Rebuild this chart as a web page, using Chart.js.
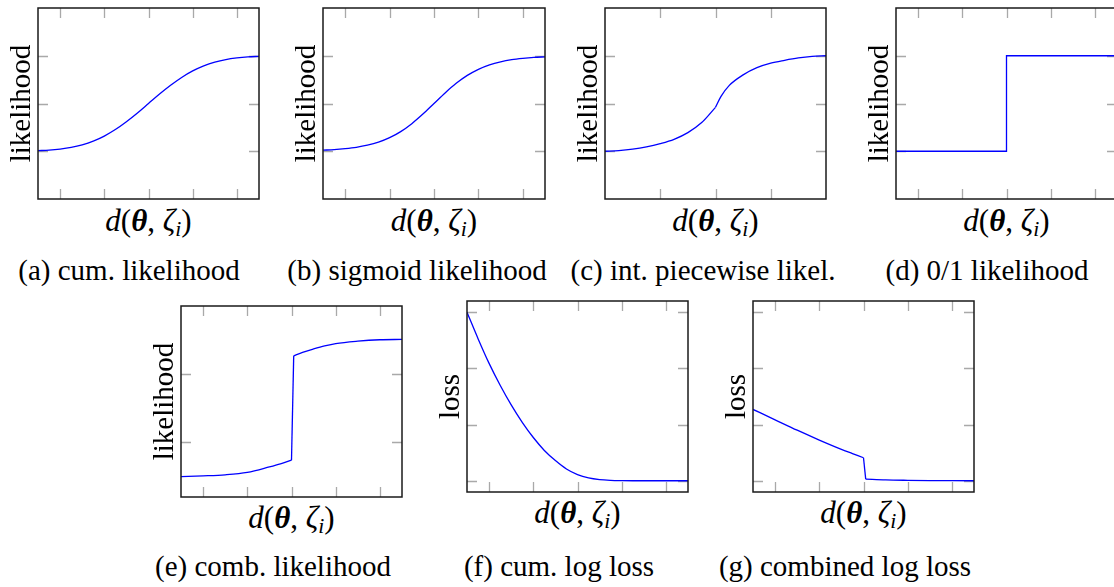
<!DOCTYPE html>
<html>
<head>
<meta charset="utf-8">
<script src="https://cdn.jsdelivr.net/npm/chart.js@4.4.1/dist/chart.umd.min.js"></script>
<style>
  body { margin: 0; background: #fff; }
  #page { position: relative; width: 1114px; height: 587px; overflow: hidden; background: #fff;
          font-family: 'Liberation Serif', serif; color: #000; }
  canvas { position: absolute; }
  .xlab, .cap { position: absolute; width: 320px; text-align: center; font-size: 29px;
                line-height: 29px; white-space: nowrap; }
  .xlab { font-size: 31px; }
  .xlab sub { font-size: 0.7em; line-height: 0; vertical-align: -0.25em; }
</style>
</head>
<body>
<div id="page"></div>
<script>
// x samples shared by (a), (b), (f)
const xGrid = [-2.5, -2.25, -2, -1.75, -1.5, -1.25, -1, -0.75, -0.5, -0.25, 0,
               0.25, 0.5, 0.75, 1, 1.25, 1.5, 1.75, 2, 2.25, 2.5];

// (a) cum. likelihood
const cumLik = [0.006, 0.012, 0.023, 0.040, 0.067, 0.106, 0.159, 0.227, 0.309, 0.401, 0.5,
                0.599, 0.691, 0.773, 0.841, 0.894, 0.933, 0.960, 0.977, 0.988, 0.994];
// (b) sigmoid likelihood
const sigLik = [0.011, 0.017, 0.027, 0.041, 0.063, 0.095, 0.142, 0.206, 0.289, 0.389, 0.5,
                0.611, 0.711, 0.794, 0.858, 0.905, 0.937, 0.959, 0.973, 0.983, 0.989];
// (c) int. piecewise likel. (two pieces meeting at 0)
const pieceLeftX = [-2, -1.75, -1.5, -1.25, -1, -0.75, -0.5, -0.25, 0];
const pieceLeftY = [0, 0.007, 0.022, 0.046, 0.08, 0.125, 0.195, 0.30, 0.46];
const pieceRightX = [0, 0.1, 0.25, 0.5, 0.75, 1, 1.25, 1.5, 1.75, 2];
const pieceRightY = [0.46, 0.575, 0.69, 0.80, 0.875, 0.922, 0.952, 0.977, 0.993, 1.0];
// (d) 0/1 likelihood
const xStep = [-2.5, 0, 0, 2.5];
const stepLik = [0, 0, 1, 1];
// (e) comb. likelihood (jump between the pieces)
const combLeftX = [-2.5, -2, -1.5, -1, -0.5, -0.25, 0];
const combLeftY = [-0.5, -0.49, -0.475, -0.44, -0.36, -0.315, -0.26];
const combRightX = [0.05, 0.25, 0.5, 0.75, 1, 1.5, 2, 2.5];
const combRightY = [1.27, 1.32, 1.37, 1.415, 1.45, 1.485, 1.505, 1.51];
// (f) cum. log loss
const cumLoss = [3.0, 2.53, 2.09, 1.70, 1.35, 1.04, 0.77, 0.54, 0.36, 0.21, 0.11,
                 0.05, 0.02, 0.007, 0.002, 0, 0, 0, 0, 0, 0];
// (g) combined log loss (drop between the pieces)
const lossLeftX = [-2.5, -2, -1.5, -1, -0.5, -0.25, 0];
const lossLeftY = [1.27, 1.085, 0.9, 0.725, 0.56, 0.485, 0.41];
const lossRightX = [0.05, 0.5, 1, 1.5, 2, 2.5];
const lossRightY = [0.03, 0.015, 0.008, 0.004, 0.002, 0];

// tick values (no labels drawn)
const xTicks5 = [-2, -1, 0, 1, 2];
const xTicks3 = [-1, 0, 1];
const yTicksLik = [0, 0.5, 1];
const yTicksComb = [0, 1];
const yTicksLoss = [0, 1, 2, 3];

const yTitles = ['likelihood', 'likelihood', 'likelihood', 'likelihood', 'likelihood', 'loss', 'loss'];
const captions = ['(a) cum. likelihood', '(b) sigmoid likelihood', '(c) int. piecewise likel.',
                  '(d) 0/1 likelihood', '(e) comb. likelihood', '(f) cum. log loss',
                  '(g) combined log loss'];

// layout: plot box [left, top, width, height], x-label baseline, caption centre & baseline
const panels = [
  { box: [38, 8, 221, 191], series: [[xGrid, cumLik]], smooth: true, join: false, xr: [-2.5, 2.5], yr: [-0.5, 1.5], xt: xTicks5, yt: yTicksLik, labBase: 231, capX: 129, capBase: 280 },
  { box: [323, 8, 222, 191], series: [[xGrid, sigLik]], smooth: true, join: false, xr: [-2.5, 2.5], yr: [-0.5, 1.5], xt: xTicks5, yt: yTicksLik, labBase: 231, capX: 417, capBase: 280 },
  { box: [605, 8, 221, 191], series: [[pieceLeftX, pieceLeftY], [pieceRightX, pieceRightY]], smooth: true, join: false, xr: [-2, 2], yr: [-0.5, 1.5], xt: xTicks3, yt: yTicksLik, labBase: 231, capX: 703, capBase: 280 },
  { box: [896, 8, 221, 191], series: [[xStep, stepLik]], smooth: false, join: false, xr: [-2.5, 2.5], yr: [-0.5, 1.5], xt: xTicks5, yt: yTicksLik, labBase: 231, capX: 987, capBase: 280 },
  { box: [181, 306, 221, 191], series: [[combLeftX, combLeftY], [combRightX, combRightY]], smooth: true, join: true, xr: [-2.5, 2.5], yr: [-0.8, 2.0], xt: xTicks5, yt: yTicksComb, labBase: 528, capX: 273, capBase: 576 },
  { box: [467, 301, 221, 191], series: [[xGrid, cumLoss]], smooth: true, join: false, xr: [-2.5, 2.5], yr: [-0.2, 3.2], xt: xTicks5, yt: yTicksLoss, labBase: 523, capX: 559, capBase: 576 },
  { box: [753, 301, 221, 191], series: [[lossLeftX, lossLeftY], [lossRightX, lossRightY]], smooth: true, join: true, xr: [-2.5, 2.5], yr: [-0.2, 3.2], xt: xTicks5, yt: yTicksLoss, labBase: 523, capX: 845, capBase: 576 }
];

// frame and inward ticks on all four sides, like pgfplots
const framePlugin = {
  id: 'frame',
  beforeDatasetsDraw(chart, args, opts) {
    const { ctx, chartArea: a, scales: { x, y } } = chart;
    ctx.save();
    ctx.strokeStyle = '#a9a9a9';
    ctx.lineWidth = 1.3;
    ctx.beginPath();
    opts.xTicks.forEach(v => {
      const px = Math.round(x.getPixelForValue(v)) + 0.5;
      ctx.moveTo(px, a.top); ctx.lineTo(px, a.top + 10);
      ctx.moveTo(px, a.bottom); ctx.lineTo(px, a.bottom - 10);
    });
    opts.yTicks.forEach(v => {
      const py = Math.round(y.getPixelForValue(v)) + 0.5;
      ctx.moveTo(a.left, py); ctx.lineTo(a.left + 10, py);
      ctx.moveTo(a.right, py); ctx.lineTo(a.right - 10, py);
    });
    ctx.stroke();
    ctx.restore();
  },
  afterDatasetsDraw(chart) {
    const { ctx, chartArea: a } = chart;
    ctx.save();
    ctx.strokeStyle = '#1a1a1a';
    ctx.lineWidth = 1.5;
    ctx.strokeRect(a.left, a.top, a.right - a.left, a.bottom - a.top);
    ctx.restore();
  }
};

const toPoints = (xs, ys) => xs.map((v, k) => ({ x: v, y: ys[k] }));
const lineStyle = { borderColor: '#0000ff', borderWidth: 1.3, pointRadius: 0, fill: false, tension: 0 };

const page = document.getElementById('page');

panels.forEach((p, i) => {
  const [L, T, W, H] = p.box;
  const cv = document.createElement('canvas');
  cv.width = W + 41;
  cv.height = H + 2;
  cv.style.left = (L - 40) + 'px';
  cv.style.top = (T - 1) + 'px';
  cv.style.width = cv.width + 'px';
  cv.style.height = cv.height + 'px';
  page.appendChild(cv);

  const datasets = p.series.map(([xs, ys]) => ({
    ...lineStyle,
    data: toPoints(xs, ys),
    cubicInterpolationMode: p.smooth ? 'monotone' : 'default'
  }));
  if (p.join) {
    // straight jump from the end of the left piece to the start of the right piece
    const [lx, ly] = p.series[0];
    const [rx, ry] = p.series[1];
    datasets.push({ ...lineStyle,
      data: [{ x: lx[lx.length - 1], y: ly[ly.length - 1] }, { x: rx[0], y: ry[0] }] });
  }

  new Chart(cv.getContext('2d'), {
    type: 'line',
    data: { datasets },
    options: {
      responsive: false,
      animation: false,
      devicePixelRatio: 1,
      events: [],
      layout: { padding: { left: 0, top: 1, right: 1, bottom: 1 } },
      plugins: {
        legend: { display: false },
        tooltip: { enabled: false },
        frame: { xTicks: p.xt, yTicks: p.yt }
      },
      scales: {
        x: { type: 'linear', min: p.xr[0], max: p.xr[1], display: false },
        y: {
          type: 'linear', min: p.yr[0], max: p.yr[1],
          ticks: { display: false },
          grid: { display: false, drawTicks: false },
          border: { display: false },
          title: {
            display: true,
            text: yTitles[i],
            color: '#000',
            font: { family: 'Liberation Serif', size: 29, lineHeight: 1 },
            padding: { top: 10, bottom: 1 }
          }
        }
      }
    },
    plugins: [framePlugin]
  });

  const lab = document.createElement('div');
  lab.className = 'xlab';
  lab.innerHTML = '<i>d</i>(<b><i>θ</i></b>, <i>ζ</i><sub><i>i</i></sub>)';
  lab.style.left = (L + W / 2 - 160) + 'px';
  lab.style.top = (p.labBase - 25) + 'px';
  page.appendChild(lab);

  const cap = document.createElement('div');
  cap.className = 'cap';
  cap.textContent = captions[i];
  cap.style.left = (p.capX - 160) + 'px';
  cap.style.top = (p.capBase - 24) + 'px';
  page.appendChild(cap);
});
</script>
</body>
</html>
